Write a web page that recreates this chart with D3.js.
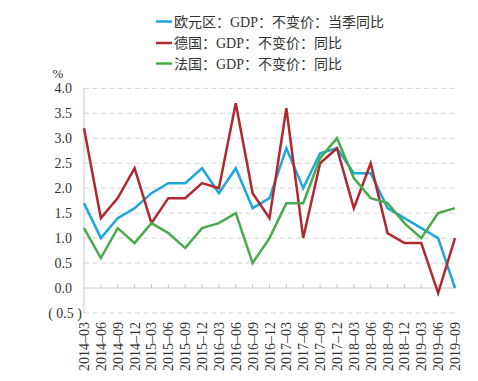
<!DOCTYPE html>
<html lang="zh">
<head>
<meta charset="utf-8">
<title>GDP</title>
<script src="https://cdn.jsdelivr.net/npm/d3@7"></script>
<style>
  body { margin: 0; background: #fff; }
  text { font-family: "Liberation Serif", "Times New Roman", "Noto Sans CJK SC", serif; fill: #333; }
</style>
</head>
<body>
<script>
// quarters on the x axis
var quarters = ["2014-03","2014-06","2014-09","2014-12","2015-03","2015-06","2015-09","2015-12",
  "2016-03","2016-06","2016-09","2016-12","2017-03","2017-06","2017-09","2017-12",
  "2018-03","2018-06","2018-09","2018-12","2019-03","2019-06","2019-09"];

// series values (%)
var euro = [1.7,1.0,1.4,1.6,1.9,2.1,2.1,2.4,1.9,2.4,1.6,1.8,2.8,2.0,2.7,2.8,2.3,2.3,1.6,1.4,1.2,1.0,0.0];
var germany = [3.2,1.4,1.8,2.4,1.3,1.8,1.8,2.1,2.0,3.7,1.9,1.4,3.6,1.0,2.5,2.8,1.6,2.5,1.1,0.9,0.9,-0.1,1.0];
var france = [1.2,0.6,1.2,0.9,1.3,1.1,0.8,1.2,1.3,1.5,0.5,1.0,1.7,1.7,2.6,3.0,2.2,1.8,1.7,1.3,1.0,1.5,1.6];

var seriesNames = ["欧元区：GDP：不变价：当季同比", "德国：GDP：不变价：同比", "法国：GDP：不变价：同比"];
var seriesColors = ["#1ea7dc", "#b1272f", "#4aa94c"];
var yTicks = [-0.5,0,0.5,1,1.5,2,2.5,3,3.5,4];

var W = 478, H = 381;
var svg = d3.select("body").append("svg").attr("width", W).attr("height", H);

var x = d3.scalePoint().domain(quarters).range([84, 455]);
var y = d3.scaleLinear().domain([-0.5, 4]).range([313, 88.3]);

// gridlines
svg.append("g").selectAll("line")
  .data(yTicks)
  .enter().append("line")
  .attr("x1", 84).attr("x2", 455)
  .attr("y1", function(d) { return y(d); })
  .attr("y2", function(d) { return y(d); })
  .attr("stroke", function(d) { return d === 0 ? "#c8c8c8" : "#d4d4d4"; })
  .attr("stroke-width", 1)
  .attr("stroke-dasharray", function(d) { return d === 0 ? null : "5,3.5"; });

// y axis line
svg.append("line")
  .attr("x1", 84).attr("x2", 84)
  .attr("y1", y(4)).attr("y2", y(-0.5))
  .attr("stroke", "#c8c8c8");

// x ticks on the zero line
svg.append("g").selectAll("line")
  .data(quarters.slice(1))
  .enter().append("line")
  .attr("x1", function(d) { return x(d); })
  .attr("x2", function(d) { return x(d); })
  .attr("y1", y(0)).attr("y2", y(0) - 4)
  .attr("stroke", "#c8c8c8");

// y labels
svg.append("g").selectAll("text")
  .data(yTicks)
  .enter().append("text")
  .attr("x", function(d) { return d < 0 ? 82 : 72; })
  .attr("y", function(d) { return y(d) + 5; })
  .attr("text-anchor", "end")
  .style("font-size", "14px")
  .text(function(d) { return d < 0 ? "( " + d3.format(".1f")(-d) + " )" : d3.format(".1f")(d); });

svg.append("text")
  .attr("x", 58).attr("y", 78)
  .attr("text-anchor", "middle")
  .style("font-size", "13px")
  .text("%");

// x labels
svg.append("g").selectAll("text")
  .data(quarters)
  .enter().append("text")
  .attr("transform", function(d) { return "translate(" + (x(d) + 5) + ",322) rotate(-90)"; })
  .attr("text-anchor", "end")
  .style("font-size", "14px")
  .text(function(d) { return d.replace("-", "–"); });

// lines
var line = d3.line()
  .x(function(d, i) { return x(quarters[i]); })
  .y(function(d) { return y(d); });

[euro, germany, france].forEach(function(s, k) {
  svg.append("path")
    .datum(s)
    .attr("d", line)
    .attr("fill", "none")
    .attr("stroke", seriesColors[k])
    .attr("stroke-width", 2.5)
    .attr("stroke-linejoin", "miter");
});

// legend
var legendY = [21.5, 43, 63.5];
seriesNames.forEach(function(name, k) {
  svg.append("line")
    .attr("x1", 156).attr("x2", 172)
    .attr("y1", legendY[k]).attr("y2", legendY[k])
    .attr("stroke", seriesColors[k])
    .attr("stroke-width", 2.5);
  svg.append("text")
    .attr("x", 174).attr("y", legendY[k] + 5)
    .style("font-size", "14px")
    .text(name);
});
</script>
</body>
</html>
